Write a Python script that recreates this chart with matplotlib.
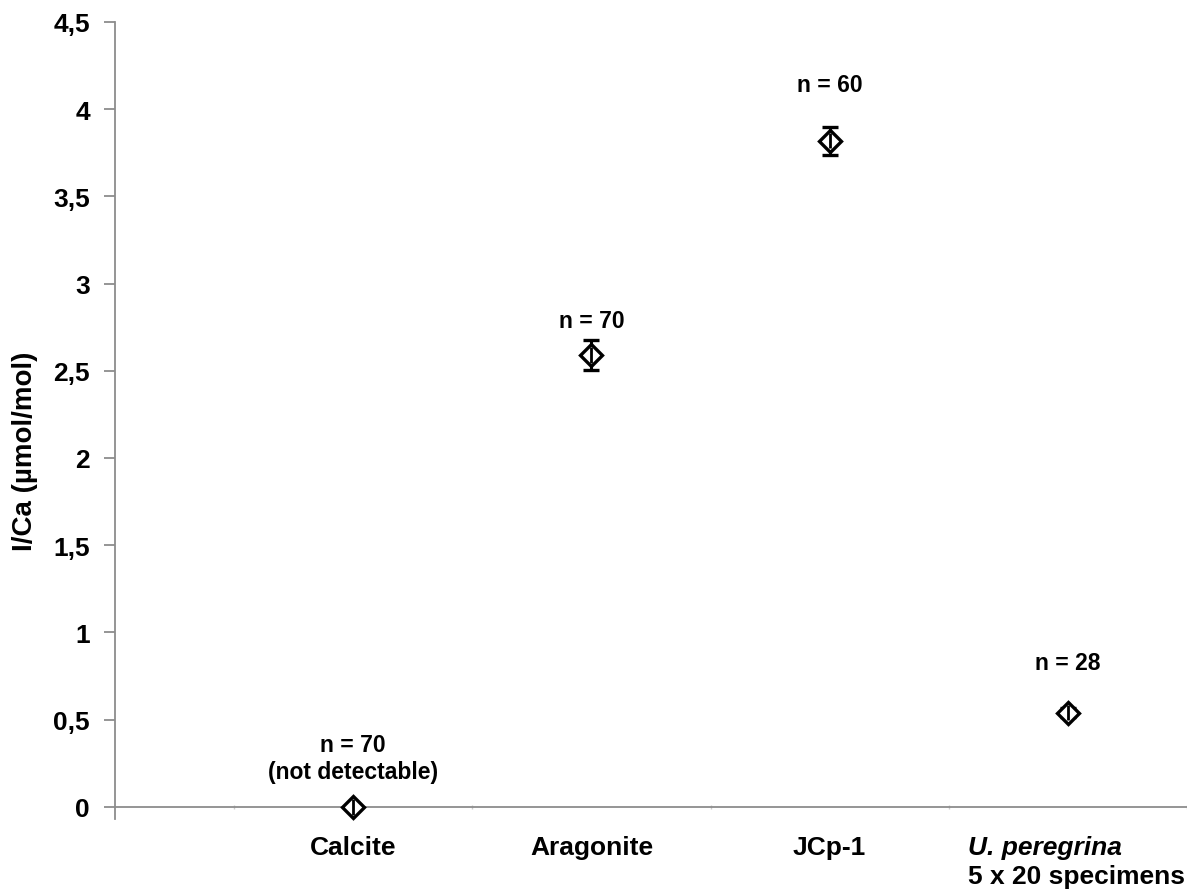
import numpy as np
import matplotlib
matplotlib.use("Agg")
import matplotlib.pyplot as plt
from matplotlib.ticker import FuncFormatter

plt.rcParams['font.family'] = ['Liberation Sans', 'DejaVu Sans']

# Daten
categories = ['Calcite', 'Aragonite', 'JCp-1', '']
ica_mean = [0.0, 2.59, 3.82, 0.54]
ica_err = [0.0, 0.085, 0.08, 0.025]
n_labels = ['n = 70\n(not detectable)', 'n = 70', 'n = 60', 'n = 28']

x = np.arange(1, len(categories) + 1)
grey = '#8c8c8c'

fig = plt.figure(figsize=(11.87, 8.95), dpi=100)
ax = fig.add_axes([115 / 1187, 75 / 895, 1 - 115 / 1187, (820 - 23) / 895])

ax.errorbar(x, ica_mean, yerr=ica_err, fmt='D', color='black', ecolor='black',
            elinewidth=2.2, capsize=6, capthick=2.2, markersize=11,
            markerfacecolor='white', markeredgecolor='black', markeredgewidth=2.4,
            zorder=3, clip_on=False)
# Fehlerbalken über dem Marker sichtbar
ax.vlines(x, np.array(ica_mean) - 0.045, np.array(ica_mean) + 0.045,
          color='black', linewidth=2, zorder=4)

# Beschriftungen über den Punkten
label_y = [0.28, 2.79, 4.14, 0.83]
for xi, yi, txt in zip(x, label_y, n_labels):
    ax.text(xi, yi, txt, ha='center', va='center', fontsize=16.5,
            fontweight='bold', linespacing=1.2)

ax.set_xlim(0, 4.5)
ax.set_ylim(-0.07, 4.5)

ax.spines['top'].set_visible(False)
ax.spines['right'].set_visible(False)
ax.spines['bottom'].set_position(('data', 0))
for s in ['left', 'bottom']:
    ax.spines[s].set_color(grey)
    ax.spines[s].set_linewidth(1.3)

ax.set_yticks(np.arange(0, 4.51, 0.5))
ax.yaxis.set_major_formatter(FuncFormatter(
    lambda v, p: ('%g' % v).replace('.', ',')))
ax.tick_params(axis='y', direction='out', length=8, width=1.3, color=grey,
               labelsize=19, pad=10)
for lbl in ax.get_yticklabels():
    lbl.set_fontweight('bold')

# x-Achse: kleine Striche zwischen den Kategorien
ax.set_xticks([0.5, 1.5, 2.5, 3.5, 4.5])
ax.set_xticklabels([])
ax.tick_params(axis='x', direction='inout', length=3, width=1, color='#cccccc')

for xi, cat in zip(x, categories):
    ax.text(xi, -0.23, cat, ha='center', va='center', fontsize=19,
            fontweight='bold', clip_on=False)
ax.text(3.58, -0.23, 'U. peregrina', ha='left', va='center', fontsize=19,
        fontweight='bold', fontstyle='italic', clip_on=False)
ax.text(3.58, -0.395, '5 x 20 specimens', ha='left', va='center', fontsize=19,
        fontweight='bold', clip_on=False)

ax.set_ylabel('I/Ca (µmol/mol)', fontsize=20, fontweight='bold')
ax.yaxis.set_label_coords(-77 / 1072, 0.463)

fig.savefig('out.png', dpi=100)
